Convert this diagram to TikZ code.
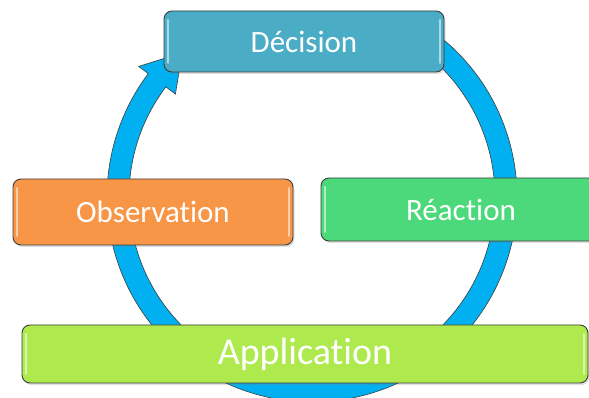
\documentclass[tikz,border=0pt]{standalone}
\usepackage{fontspec}
\setmainfont[Ligatures=NoCommon]{Carlito}
\usetikzlibrary{positioning}
\usetikzlibrary{shadows}

\definecolor{decfill}{RGB}{75,172,198}
\definecolor{obsfill}{RGB}{247,150,70}
\definecolor{reacfill}{RGB}{76,217,123}
\definecolor{appfill}{RGB}{174,234,78}
\definecolor{ringblue}{RGB}{0,176,240}
\definecolor{edgegray}{RGB}{60,60,60}

\tikzset{
  stagebox/.style={draw=edgegray, line width=0.9pt, rounded corners=8pt,
    text=white, minimum width=280pt, inner sep=0pt,
    font=\fontsize{31}{33}\selectfont,
    drop shadow={opacity=0.25, shadow xshift=1.5pt, shadow yshift=-2pt},
    path picture={
      \draw[white, opacity=0.55, line width=2pt, line cap=round]
        ([shift={(4pt,9pt)}]path picture bounding box.south west)
        -- ([shift={(4pt,-9pt)}]path picture bounding box.north west);
      \draw[white, opacity=0.55, line width=2pt, line cap=round]
        ([shift={(-4pt,9pt)}]path picture bounding box.south east)
        -- ([shift={(-4pt,-9pt)}]path picture bounding box.north east);
    }},
  ring/.style={fill=ringblue, draw=edgegray, line width=0.6pt}
}

\begin{document}
\begin{tikzpicture}[x=1pt,y=1pt]
\useasboundingbox (0,0) rectangle (589,398);
% cycle arrow
\begin{scope}[shift={(312,201)}]
\path[ring] (60:205) arc[start angle=60, end angle=-217, radius=205]
  -- (-217:217) -- (-228:194) -- (-217:171) -- (-217:183)
  arc[start angle=-217, end angle=60, radius=183] -- cycle;
\end{scope}
% stages
\node[stagebox, fill=decfill, minimum height=61pt] (dec) at (304,356.5) {Décision};
\node[stagebox, fill=obsfill, minimum height=66pt] (obs) at (153,186) {Observation};
\node[stagebox, fill=reacfill, minimum height=63pt] (reac) at (461,188.5) {Réaction};
\node[stagebox, fill=appfill, minimum width=566pt, minimum height=58pt,
  font=\fontsize{38}{40}\selectfont] (app) at (305,44) {Application};
\end{tikzpicture}
\end{document}
